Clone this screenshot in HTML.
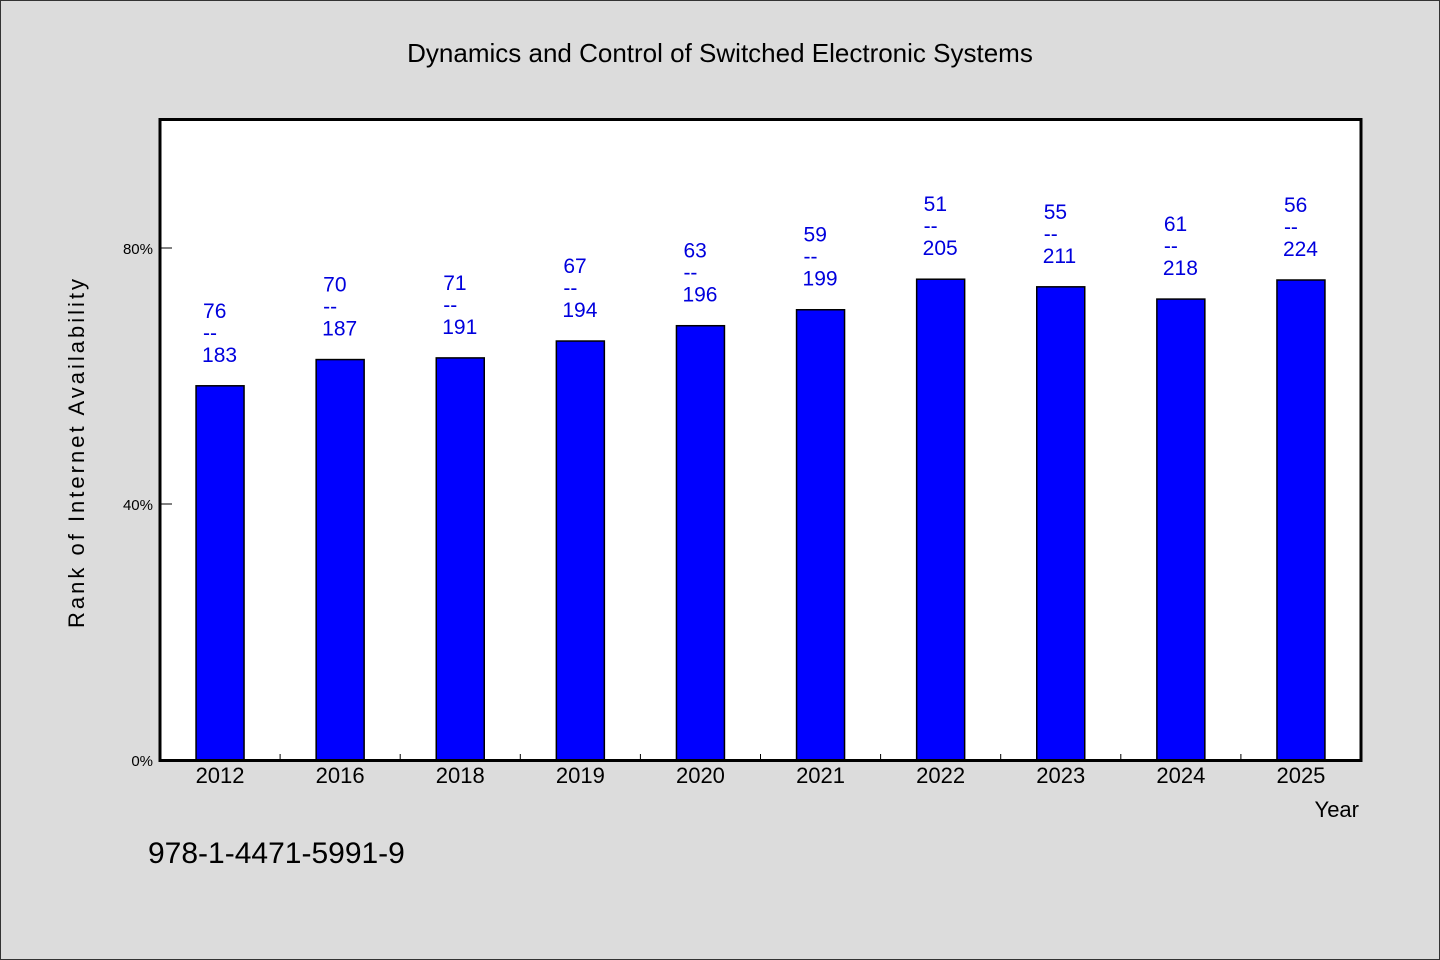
<!DOCTYPE html>
<html><head><meta charset="utf-8"><style>
html,body{margin:0;padding:0;background:#dcdcdc}
svg{display:block}
text{font-family:"WenQuanYi Zen Hei","Liberation Sans",sans-serif}
</style></head><body>
<svg id="chart" width="1440" height="960" xmlns="http://www.w3.org/2000/svg">
<rect x="0.5" y="0.5" width="1439" height="959" fill="#dcdcdc" stroke="#333"/>
<text x="720" y="62" text-anchor="middle" font-size="26" fill="#000">Dynamics and Control of Switched Electronic Systems</text>
<rect x="160" y="119.5" width="1201" height="641" fill="#fff"/>
<g id="bars"></g>
<g id="labels"></g>
<g id="ticks"></g>
<rect x="160" y="119.5" width="1201" height="641" fill="none" stroke="#000" stroke-width="3"/>
<text transform="translate(84,452) rotate(-90)" text-anchor="middle" font-size="22" letter-spacing="3" fill="#000">Rank of Internet Availability</text>
<text x="1359" y="817" text-anchor="end" font-size="22" fill="#000">Year</text>
<text x="148" y="863" font-size="30" fill="#000">978-1-4471-5991-9</text>
</svg>
<script>
const categories=["2012","2016","2018","2019","2020","2021","2022","2023","2024","2025"];
const ranks=[76,70,71,67,63,59,51,55,61,56];
const totals=[183,187,191,194,196,199,205,211,218,224];
const yTicks=[0,40,80];
const NS="http://www.w3.org/2000/svg";
const x0=160,x1=1361,yBase=760,yTop80=248;
const band=(x1-x0)/categories.length;
function xc(i){return x0+band*(i+0.5);}
function y(p){return yBase-(yBase-yTop80)*p/80;}
function mk(tag,attrs,parent){const e=document.createElementNS(NS,tag);for(const k in attrs)e.setAttribute(k,attrs[k]);parent.appendChild(e);return e;}
const gb=document.getElementById('bars'),gl=document.getElementById('labels'),gt=document.getElementById('ticks');
categories.forEach((c,i)=>{
  const v=(1-ranks[i]/totals[i])*100;
  const top=y(v);
  const r=mk('rect',{x:xc(i)-24,y:top,width:48,height:yBase-top,fill:'#0000ff',stroke:'#000','stroke-width':1.5},gb);
  
  
  const lx=xc(i)-17;
  const t1=mk('text',{x:lx,y:top-68,'font-size':21,fill:'#0000dd'},gl);t1.textContent=ranks[i];
  
  
  const t2=mk('text',{x:lx,y:top-46,'font-size':21,fill:'#0000dd'},gl);t2.textContent='--';
  
  
  const t3=mk('text',{x:lx-1,y:top-24,'font-size':21,fill:'#0000dd'},gl);t3.textContent=totals[i];
  
  
  const xl=mk('text',{x:xc(i),y:783,'text-anchor':'middle','font-size':22,fill:'#000'},gt);xl.textContent=c;
  
  
  if(i>0){const tk=mk('line',{x1:x0+band*i,x2:x0+band*i,y1:760,y2:754,stroke:'#000','stroke-width':1},gt);
    
    }
});
yTicks.forEach(p=>{
  const yy=y(p);
  const l=mk('line',{x1:160,x2:172,y1:yy,y2:yy,stroke:'#000','stroke-width':1},gt);
  
  
  const t=mk('text',{x:153,y:yy+6,'text-anchor':'end','font-size':15,fill:'#000'},gt);t.textContent=p+'%';
  
  
});
</script>
</body></html>
